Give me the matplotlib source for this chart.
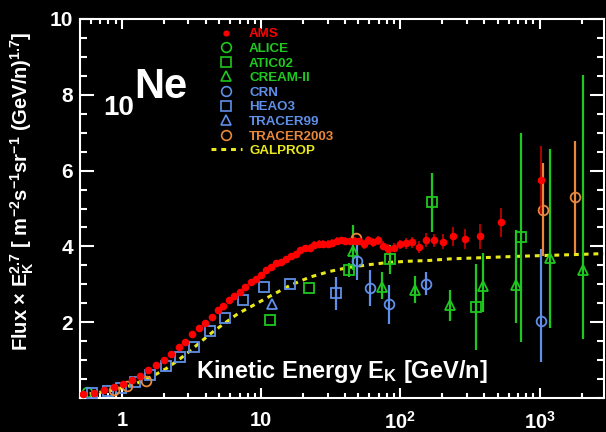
import matplotlib
matplotlib.use('Agg')
import matplotlib.pyplot as plt
from matplotlib.lines import Line2D
from matplotlib.ticker import FixedLocator, FixedFormatter, LogLocator, MultipleLocator, NullFormatter

plt.rcParams['font.family'] = ['Liberation Sans', 'DejaVu Sans']
plt.rcParams['mathtext.fontset'] = 'custom'
plt.rcParams['mathtext.rm'] = 'Liberation Sans:bold'
plt.rcParams['mathtext.it'] = 'Liberation Sans:bold'
plt.rcParams['mathtext.bf'] = 'Liberation Sans:bold'
plt.rcParams['mathtext.default'] = 'rm'

# ---------------- data ----------------
ams_E = [0.527, 0.633, 0.746, 0.881, 1.02, 1.18, 1.35, 1.55, 1.77, 2.01, 2.27, 2.55, 2.85,
         3.20, 3.57, 3.96, 4.40, 4.86, 5.33, 5.86, 6.40, 7.03, 7.68, 8.39, 9.17, 9.95, 10.8,
         11.7, 12.8, 13.8, 15.0, 16.3, 17.7, 19.0, 20.6, 22.4, 24.0, 25.9, 27.9, 30.1, 32.2,
         34.8, 37.3, 40.3, 43.3, 47.1, 50.5, 54.4, 58.7, 63.4, 68.8, 75.1, 81.6, 89.7, 98.6,
         109, 121, 136, 152, 173, 201, 237, 289, 376, 526, 1023]
ams_F = [0.10, 0.145, 0.205, 0.284, 0.368, 0.474, 0.592, 0.729, 0.861, 1.013, 1.166, 1.334,
         1.487, 1.676, 1.850, 1.992, 2.150, 2.316, 2.429, 2.579, 2.703, 2.808, 2.939, 3.061,
         3.150, 3.255, 3.387, 3.447, 3.553, 3.587, 3.658, 3.755, 3.808, 3.895, 3.947, 3.955,
         4.034, 4.061, 4.061, 4.061, 4.087, 4.139, 4.158, 4.150, 4.132, 4.139, 4.132, 4.053,
         4.158, 4.113, 4.166, 4.018, 3.939, 3.966, 4.053, 4.079, 4.105, 3.982, 4.166, 4.158,
         4.124, 4.263, 4.192, 4.263, 4.639, 5.755]
ams_err = [0.02, 0.02, 0.02, 0.02, 0.02, 0.02, 0.02, 0.02, 0.02, 0.02, 0.02, 0.02, 0.02,
           0.02, 0.02, 0.02, 0.02, 0.02, 0.02, 0.02, 0.04, 0.04, 0.04, 0.04, 0.04, 0.04, 0.08,
           0.08, 0.08, 0.08, 0.08, 0.08, 0.08, 0.10, 0.10, 0.10, 0.10, 0.10, 0.10, 0.10, 0.10,
           0.10, 0.10, 0.10, 0.10, 0.10, 0.10, 0.12, 0.12, 0.12, 0.12, 0.12, 0.12, 0.12, 0.12,
           0.15, 0.15, 0.15, 0.18, 0.18, 0.20, 0.24, 0.26, 0.32, 0.38, 0.90]

alice_E = [0.558]
alice_F = [0.166]

atic_E = [11.5, 22.1, 42.8, 83.9, 170, 352, 731]
atic_F = [2.05, 2.89, 3.37, 3.68, 5.16, 2.40, 4.24]
atic_lo = [0.0, 0.0, 0.19, 0.40, 0.78, 1.14, 2.76]
atic_hi = [0.0, 0.0, 0.19, 0.36, 0.77, 1.14, 2.74]

cream_E = [45.8, 73.9, 128, 226, 393, 681, 1182, 2050]
cream_F = [3.89, 2.93, 2.84, 2.45, 2.95, 2.99, 3.70, 3.37]
cream_lo = [0.50, 0.33, 0.33, 0.42, 0.68, 1.01, 1.85, 1.82]
cream_hi = [0.68, 0.39, 0.37, 0.41, 0.87, 1.45, 2.87, 5.14]

crn_E = [49.2, 61.0, 82.2, 154, 1019]
crn_F = [3.61, 2.90, 2.47, 3.02, 2.03]
crn_lo = [0.50, 0.48, 0.51, 0.31, 1.09]
crn_hi = [0.42, 0.47, 0.50, 0.30, 1.91]

heao_E = [0.612, 0.789, 0.984, 1.24, 1.59, 2.08, 2.61, 3.31, 4.26, 5.52, 7.39, 10.5, 16.1, 34.4]
heao_F = [0.124, 0.184, 0.271, 0.413, 0.613, 0.850, 1.092, 1.342, 1.755, 2.113, 2.597, 2.929,
          3.00, 2.771]
heao_lo = [0, 0, 0, 0, 0, 0, 0, 0, 0, 0, 0, 0, 0, 0.44]
heao_hi = [0, 0, 0, 0, 0, 0, 0, 0, 0, 0, 0, 0, 0, 0.42]

tr99_E = [11.9]
tr99_F = [2.49]

tr03_E = [0.88, 1.08, 1.49, 47.9, 1064, 1807]
tr03_F = [0.21, 0.32, 0.45, 4.22, 4.97, 5.30]
tr03_lo = [0, 0, 0, 0, 1.23, 1.48]
tr03_hi = [0, 0, 0, 0, 1.22, 1.49]

gal_E = [0.5, 0.82, 1.19, 1.63, 2.09, 2.54, 3.08, 3.73, 4.52, 5.64, 6.84, 8.53, 10.6, 16.1,
         22.4, 31.1, 43.3, 60.3, 83.9, 117, 163, 226, 315, 720, 1644, 2900]
gal_F = [0.075, 0.19, 0.34, 0.56, 0.78, 1.0, 1.24, 1.50, 1.75, 2.01, 2.23, 2.42, 2.61, 2.97,
         3.19, 3.34, 3.45, 3.52, 3.58, 3.61, 3.63, 3.67, 3.69, 3.74, 3.78, 3.81]

xtick_vals = [1, 10, 100, 1000]
xtick_labels = ['1', '10', r'10$^2$', r'10$^3$']
ytick_vals = [2, 4, 6, 8, 10]
ytick_labels = ['2', '4', '6', '8', '10']

legend_labels = ['AMS', 'ALICE', 'ATIC02', 'CREAM-II', 'CRN', 'HEAO3', 'TRACER99',
                 'TRACER2003', 'GALPROP']

# ---------------- style ----------------
RED = '#ff0000'
DRED = '#cc0000'
GREEN = '#1ec81e'
BLUE = '#5f8fe8'
ORANGE = '#e8883c'
YELLOW = '#e8e81a'
W = 'white'

fig = plt.figure(figsize=(6.06, 4.32), dpi=100, facecolor='black')
ax = fig.add_axes([80/606, 34/432, 524/606, 379/432])
ax.set_facecolor('black')

ax.set_xscale('log')
ax.set_xlim(0.5, 2900)
ax.set_ylim(0, 10)

# GALPROP
ax.plot(gal_E, gal_F, color=YELLOW, lw=2.2, dashes=(1.6, 1.6), zorder=3)

def open_pts(E, F, lo, hi, marker, color, ms):
    ax.errorbar(E, F, yerr=[lo, hi], fmt=marker, mfc='none', mec=color, mew=1.3, ms=ms,
                ecolor=color, elinewidth=1.6, capsize=0, zorder=4)

ax.plot(alice_E, alice_F, ls='none', marker='o', mfc='none', mec=GREEN, mew=1.3, ms=7, zorder=4)
open_pts(atic_E, atic_F, atic_lo, atic_hi, 's', GREEN, 6.5)
open_pts(cream_E, cream_F, cream_lo, cream_hi, '^', GREEN, 7)
open_pts(crn_E, crn_F, crn_lo, crn_hi, 'o', BLUE, 7)
open_pts(heao_E, heao_F, heao_lo, heao_hi, 's', BLUE, 7)
ax.plot(tr99_E, tr99_F, ls='none', marker='^', mfc='none', mec=BLUE, mew=1.3, ms=7, zorder=4)
open_pts(tr03_E, tr03_F, tr03_lo, tr03_hi, 'o', ORANGE, 7)

ax.errorbar(ams_E, ams_F, yerr=ams_err, fmt='o', color=RED, ms=5.5, mec='none',
            ecolor=DRED, elinewidth=1.2, capsize=0, zorder=6)

# axes styling
for s in ax.spines.values():
    s.set_color(W)
    s.set_linewidth(1.5)
ax.xaxis.set_major_locator(FixedLocator(xtick_vals))
ax.xaxis.set_major_formatter(FixedFormatter(xtick_labels))
ax.xaxis.set_minor_locator(LogLocator(base=10, subs=(2, 3, 4, 5, 6, 7, 8, 9), numticks=20))
ax.xaxis.set_minor_formatter(NullFormatter())
ax.yaxis.set_major_locator(FixedLocator(ytick_vals))
ax.yaxis.set_major_formatter(FixedFormatter(ytick_labels))
ax.yaxis.set_minor_locator(MultipleLocator(0.5))
ax.tick_params(which='both', direction='in', top=True, right=True, colors=W, width=1.5)
ax.tick_params(axis='x', which='major', length=7.5, pad=9.5, labelsize=14.5)
ax.tick_params(axis='x', which='minor', length=3.5)
ax.tick_params(axis='y', which='major', length=10, pad=5, labelsize=15)
ax.tick_params(axis='y', which='minor', length=5)
for lab in ax.get_xticklabels() + ax.get_yticklabels():
    lab.set_fontweight('bold')

# texts
fig.text(22/606, 241/432,
         r'Flux × E$_{K}^{2.7}$ [ m$^{-2}$s$^{-1}$sr$^{-1}$ (GeV/n)$^{1.7}$]',
         rotation=90, ha='center', va='center', color=W, fontsize=14.5, fontweight='bold')
ax.text(0.5, 0.053, r'Kinetic Energy E$_{K}$ [GeV/n]', transform=ax.transAxes,
        ha='center', va='baseline', color=W, fontsize=17, fontweight='bold')
fig.text(103/606, 1 - 115/432, '10', color=W, fontsize=20, fontweight='bold', va='baseline')
fig.text(134/606, 1 - 98/432, 'Ne', color=W, fontsize=30, fontweight='bold', va='baseline')

# legend
handles = [
    Line2D([], [], ls='none', marker='o', color=RED, mec='none', ms=4.5),
    Line2D([], [], ls='none', marker='o', mfc='none', mec=GREEN, mew=1.2, ms=7),
    Line2D([], [], ls='none', marker='s', mfc='none', mec=GREEN, mew=1.2, ms=6.5),
    Line2D([], [], ls='none', marker='^', mfc='none', mec=GREEN, mew=1.2, ms=7),
    Line2D([], [], ls='none', marker='o', mfc='none', mec=BLUE, mew=1.2, ms=7),
    Line2D([], [], ls='none', marker='s', mfc='none', mec=BLUE, mew=1.2, ms=6.5),
    Line2D([], [], ls='none', marker='^', mfc='none', mec=BLUE, mew=1.2, ms=7),
    Line2D([], [], ls='none', marker='o', mfc='none', mec=ORANGE, mew=1.2, ms=7),
    Line2D([], [], color=YELLOW, lw=2.2, dashes=(1.6, 1.6)),
]
label_colors = [RED, GREEN, GREEN, GREEN, BLUE, BLUE, BLUE, ORANGE, YELLOW]
leg = ax.legend(handles, legend_labels, loc='upper left',
                bbox_to_anchor=((211 - 80) / 524, (398 - 28) / 379),
                frameon=False, prop={'weight': 'bold', 'size': 9.6},
                labelspacing=0.17, handlelength=2.3, handletextpad=0.55,
                borderpad=0, borderaxespad=0)
for t, c in zip(leg.get_texts(), label_colors):
    t.set_color(c)

fig.savefig('out.png', dpi=100, facecolor='black')
